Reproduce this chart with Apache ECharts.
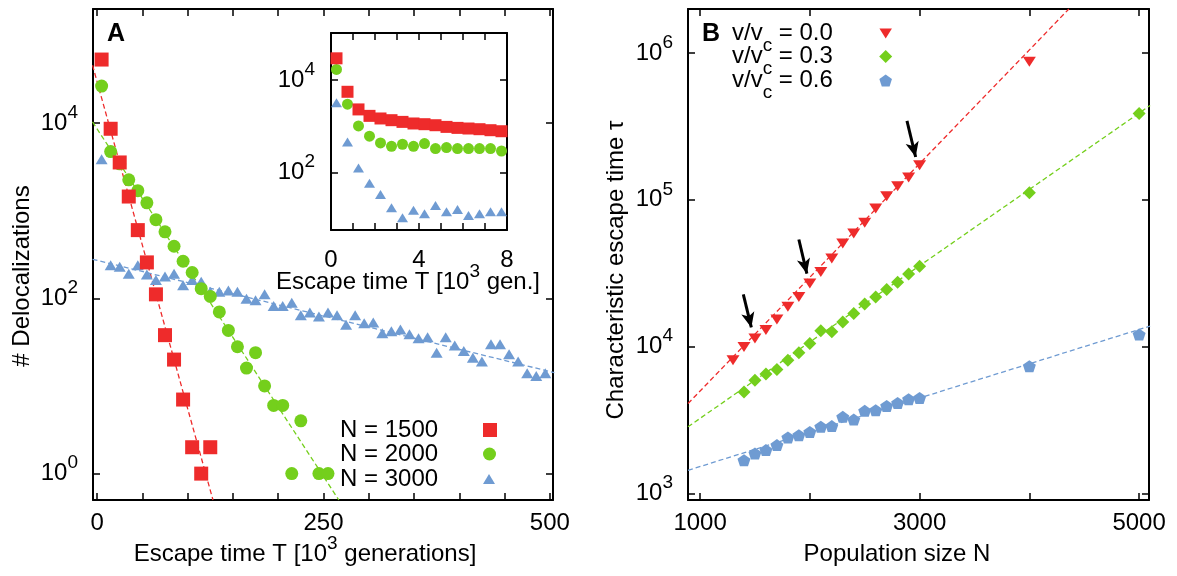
<!DOCTYPE html>
<html>
<head>
<meta charset="utf-8">
<script src="https://cdn.jsdelivr.net/npm/echarts@6.0.0/dist/echarts.min.js"></script>
<style>
  html, body { margin: 0; padding: 0; background: #fff; }
  #chart { width: 1177px; height: 576px; }
</style>
</head>
<body>
<div id="chart"></div>
<script>
// ---- Panel A: histograms of escape times (10^3 generations) ----
const escT_N1500 = [5, 15, 25, 35, 45, 55, 65, 75, 85, 95, 105, 115, 125];
const deloc_N1500 = [53000, 8600, 3550, 1450, 600, 257, 111, 38, 20, 7, 2, 1, 2];

const escT_N2000 = [5, 15, 25, 35, 45, 55, 65, 75, 85, 95, 105, 115, 125, 135, 145, 155, 165, 175, 185, 195, 205, 215, 225, 245, 255];
const deloc_N2000 = [26400, 4720, 3420, 2250, 1690, 1230, 790, 573, 393, 265, 197, 129, 105, 70, 43, 28, 16, 24, 10, 6, 6, 1, 4, 1, 1];

const escT_N3000 = [5, 15, 25, 35, 45, 55, 65, 75, 85, 95, 105, 115, 125, 135, 145, 155, 165, 175, 185, 195,
  205, 215, 225, 235, 245, 255, 265, 275, 285, 295, 305, 315, 325, 335, 345, 355, 365, 375, 385, 395,
  405, 415, 425, 435, 445, 455, 465, 475, 485, 495];
const deloc_N3000 = [3860, 239, 229, 191, 239, 187, 162, 177, 191, 141, 162, 155, 119, 119, 123, 119, 99, 95, 111, 82,
  82, 89, 64, 69, 62, 69, 64, 50, 64, 52, 53, 40, 42, 44, 39, 35, 36, 24, 36, 29,
  25, 21, 19, 30, 30, 23, 19, 14, 13, 14];

// exponential fits (end points)
const fitA_N1500 = [[-5, 45600], [128, 0.5]];
const fitA_N2000 = [[-5, 10300], [267, 0.5]];
const fitA_N3000 = [[-5, 279], [505, 14.2]];

// inset: first 8000 generations
const insetT = [0.25, 0.75, 1.25, 1.75, 2.25, 2.75, 3.25, 3.75, 4.25, 4.75, 5.25, 5.75, 6.25, 6.75, 7.25, 7.75];
const inset_N1500 = [29600, 5570, 2310, 1675, 1470, 1350, 1240, 1145, 1105, 1050, 966, 919, 891, 861, 819, 778];
const inset_N2000 = [17000, 3000, 1015, 607, 434, 367, 406, 367, 420, 327, 344, 327, 327, 327, 327, 290];
const inset_N3000 = [3210, 456, 124, 58, 33, 17, 10.4, 15, 12.7, 19, 14, 15.7, 11.6, 12.7, 14, 14];

// ---- Panel B: characteristic escape time vs population size ----
const popN_v00 = [1300, 1400, 1500, 1600, 1700, 1800, 1900, 2000, 2100, 2200, 2300, 2400, 2500, 2600, 2700, 2800, 2900, 3000, 4000];
const tau_v00 = [8070, 9950, 11350, 12950, 15300, 18700, 21800, 26900, 32300, 39800, 50400, 59000, 69700, 87300, 106000, 124000, 142000, 172000, 873000];

const popN_v03 = [1400, 1500, 1600, 1700, 1800, 1900, 2000, 2100, 2200, 2300, 2400, 2500, 2600, 2700, 2800, 2900, 3000, 4000, 5000];
const tau_v03 = [4910, 5900, 6490, 6980, 8070, 9060, 10500, 12800, 12600, 14700, 16800, 19500, 21800, 24500, 27400, 31200, 35300, 112000, 388000];

const popN_v06 = [1400, 1500, 1600, 1700, 1800, 1900, 2000, 2100, 2200, 2300, 2400, 2500, 2600, 2700, 2800, 2900, 3000, 4000, 5000];
const tau_v06 = [1680, 1870, 1970, 2130, 2400, 2490, 2620, 2840, 2870, 3320, 3180, 3650, 3680, 3940, 4130, 4380, 4470, 7350, 12100];

const fitB_v00 = [[890, 4090], [4360, 2000000]];
const fitB_v03 = [[890, 2840], [5100, 440000]];
const fitB_v06 = [[890, 1435], [5100, 13800]];

// arrows marking N = 1500, 2000, 3000
const arrowFrom = [[1394, 22700], [1900, 53700], [2885, 346000]];
const arrowTo = [[1467, 13500], [1973, 31400], [2964, 196000]];

// tick values (log axes are drawn as log10 on value axes)
const ticksA_x = [0, 50, 100, 150, 200, 250, 300, 350, 400, 450, 500];
const labelsA_x = [0, 250, 500];
const ticksA_y = [0, 2, 4];
const ticksInset_x = [0, 1, 2, 3, 4, 5, 6, 7, 8];
const labelsInset_x = [0, 4, 8];
const ticksInset_y = [2, 4];
const ticksB_x = [1000, 2000, 3000, 4000, 5000];
const labelsB_x = [1000, 3000, 5000];
const ticksB_y = [3, 4, 5, 6];

const FONT = '"Liberation Sans", Arial, Helvetica, sans-serif';
const RED = '#ee2b2b';
const GREEN = '#74cf1c';
const BLUE = '#6f9bd2';
const TRI_DOWN = 'path://M0,0L20,0L10,16Z';
const PENTAGON = 'path://M10,0L19.51,6.91L15.88,18.09L4.12,18.09L0.49,6.91Z';

const supRich = {
    b: { fontSize: 24, fontFamily: FONT, color: '#000', lineHeight: 40 },
    s: { fontSize: 19, fontFamily: FONT, color: '#000', verticalAlign: 'top' }
};

function pts(xs, ys) {
    return xs.map((x, i) => [x, Math.log10(ys[i])]);
}
function fitPts(pairs) {
    return pairs.map(p => [p[0], Math.log10(p[1])]);
}

function xAxis(gridIndex, min, max, ticks, labels, position, margin) {
    return {
        type: 'value', gridIndex: gridIndex, min: min, max: max, position: position,
        axisLine: { show: true, onZero: false, lineStyle: { color: '#000', width: 2 } },
        axisTick: { show: true, inside: true, length: 7, customValues: ticks, lineStyle: { color: '#000', width: 1.5 } },
        axisLabel: {
            show: !!labels, customValues: labels || [], margin: margin,
            color: '#000', fontSize: 24, fontFamily: FONT,
            formatter: function (v) { return String(v); }
        },
        splitLine: { show: false }
    };
}
function yLogAxis(gridIndex, min, max, ticks, position, showLabels, margin) {
    return {
        type: 'value', gridIndex: gridIndex, min: min, max: max, position: position,
        axisLine: { show: true, onZero: false, lineStyle: { color: '#000', width: 2 } },
        axisTick: { show: true, inside: true, length: 7, customValues: ticks, lineStyle: { color: '#000', width: 1.5 } },
        axisLabel: {
            show: showLabels, customValues: ticks, margin: margin,
            formatter: function (v) { return '{b|10}{s|' + Math.round(v) + '}'; },
            rich: supRich
        },
        splitLine: { show: false }
    };
}
function scatter(name, axis, data, symbol, size, color) {
    return {
        name: name, type: 'scatter', xAxisIndex: axis, yAxisIndex: axis,
        data: data, symbol: symbol, symbolSize: size, z: 3, silent: true,
        itemStyle: { color: color, opacity: 1 }
    };
}
function fitLine(name, axis, data, color) {
    return {
        name: name, type: 'line', xAxisIndex: axis, yAxisIndex: axis,
        data: data, symbol: 'none', showSymbol: false, clip: true, z: 2, silent: true,
        lineStyle: { color: color, width: 1.3, type: [5, 3] }
    };
}

const series = [
    fitLine('fitA1500', 0, fitPts(fitA_N1500), RED),
    fitLine('fitA2000', 0, fitPts(fitA_N2000), GREEN),
    fitLine('fitA3000', 0, fitPts(fitA_N3000), BLUE),
    scatter('N = 3000', 0, pts(escT_N3000, deloc_N3000), 'triangle', [12, 10], BLUE),
    scatter('N = 2000', 0, pts(escT_N2000, deloc_N2000), 'circle', 13, GREEN),
    scatter('N = 1500', 0, pts(escT_N1500, deloc_N1500), 'rect', 14, RED),

    scatter('inset3000', 2, pts(insetT, inset_N3000), 'triangle', [11, 9], BLUE),
    scatter('inset2000', 2, pts(insetT, inset_N2000), 'circle', 11, GREEN),
    scatter('inset1500', 2, pts(insetT, inset_N1500), 'rect', 12, RED),

    fitLine('fitB06', 4, fitPts(fitB_v06), BLUE),
    fitLine('fitB03', 4, fitPts(fitB_v03), GREEN),
    Object.assign(fitLine('fitB00', 4, fitPts(fitB_v00), RED), {
        markLine: {
            silent: true, animation: false,
            symbol: ['none', 'arrow'], symbolSize: [10, 15],
            label: { show: false },
            lineStyle: { color: '#000', width: 3, type: 'solid' },
            data: arrowFrom.map((a, i) => [
                { coord: [a[0], Math.log10(a[1])] },
                { coord: [arrowTo[i][0], Math.log10(arrowTo[i][1])] }
            ])
        }
    }),
    scatter('v/vc = 0.6', 4, pts(popN_v06, tau_v06), PENTAGON, [13, 12], BLUE),
    scatter('v/vc = 0.3', 4, pts(popN_v03, tau_v03), 'diamond', [13, 13], GREEN),
    scatter('v/vc = 0.0', 4, pts(popN_v00, tau_v00), TRI_DOWN, [13, 10], RED)
];

// legends, one per entry so each row sits where it does in the figure
const legendA = [
    { name: 'N = 1500', icon: 'rect', w: 14, h: 14, y: 430 },
    { name: 'N = 2000', icon: 'circle', w: 13, h: 13, y: 454 },
    { name: 'N = 3000', icon: 'triangle', w: 12, h: 10, y: 479 }
].map(it => ({
    left: 340, top: it.y - 12, padding: 0, orient: 'vertical', align: 'right',
    itemWidth: it.w, itemHeight: it.h, selectedMode: false,
    data: [{ name: it.name, icon: it.icon }],
    formatter: name => '{t|' + name + '}',
    textStyle: {
        fontSize: 24, fontFamily: FONT, color: '#000', lineHeight: 24,
        rich: { t: { width: 138, align: 'left', fontSize: 24, fontFamily: FONT, color: '#000', lineHeight: 24 } }
    }
}));
const legendB = [
    { name: 'v/vc = 0.0', icon: TRI_DOWN, w: 13, h: 10, y: 32 },
    { name: 'v/vc = 0.3', icon: 'diamond', w: 13, h: 13, y: 55 },
    { name: 'v/vc = 0.6', icon: PENTAGON, w: 13, h: 12, y: 79 }
].map(it => ({
    left: 732, top: it.y - 10.5, padding: 0, orient: 'vertical', align: 'right',
    itemWidth: it.w, itemHeight: it.h, selectedMode: false,
    data: [{ name: it.name, icon: it.icon }],
    formatter: name => '{a|v/v}{c|c}{e| = ' + name.split('= ')[1] + '}',
    textStyle: {
        fontSize: 24, fontFamily: FONT, color: '#000',
        rich: {
            a: { fontSize: 24, fontFamily: FONT, color: '#000', align: 'left', verticalAlign: 'middle' },
            c: { fontSize: 19, fontFamily: FONT, color: '#000', align: 'left', verticalAlign: 'top', padding: [24, 0, 0, 0] },
            e: { fontSize: 24, fontFamily: FONT, color: '#000', align: 'left', verticalAlign: 'middle', width: 102 }
        }
    }
}));

const chart = echarts.init(document.getElementById('chart'), null, { renderer: 'canvas' });
chart.setOption({
    animation: false,
    backgroundColor: '#fff',
    textStyle: { fontFamily: FONT, color: '#000' },
    grid: [
        { left: 93, top: 9, width: 460, height: 491, outerBoundsMode: 'none' },
        { left: 331, top: 33, width: 176, height: 197, outerBoundsMode: 'none' },
        { left: 688, top: 9, width: 461, height: 491, outerBoundsMode: 'none' }
    ],
    xAxis: [
        xAxis(0, -4.5, 503.5, ticksA_x, labelsA_x, 'bottom', 11),
        xAxis(0, -4.5, 503.5, ticksA_x, null, 'top', 8),
        xAxis(1, 0, 8, ticksInset_x, labelsInset_x, 'bottom', 18),
        xAxis(1, 0, 8, ticksInset_x, null, 'top', 8),
        xAxis(2, 890, 5090, ticksB_x, labelsB_x, 'bottom', 11),
        xAxis(2, 890, 5090, ticksB_x, null, 'top', 8)
    ],
    yAxis: [
        yLogAxis(0, Math.log10(0.5), Math.log10(200000), ticksA_y, 'left', true, 15),
        yLogAxis(0, Math.log10(0.5), Math.log10(200000), ticksA_y, 'right', false, 8),
        yLogAxis(1, 0.75, 5.02, ticksInset_y, 'left', true, 16),
        yLogAxis(1, 0.75, 5.02, ticksInset_y, 'right', false, 8),
        yLogAxis(2, Math.log10(900), Math.log10(2000000), ticksB_y, 'left', true, 15),
        yLogAxis(2, Math.log10(900), Math.log10(2000000), ticksB_y, 'right', false, 8)
    ],
    legend: legendA.concat(legendB),
    graphic: [
        { type: 'text', x: 116, y: 34, style: { text: 'A', fontSize: 25, fontWeight: 'bold', fontFamily: FONT, fill: '#000', align: 'center', verticalAlign: 'middle' } },
        { type: 'text', x: 711, y: 34, style: { text: 'B', fontSize: 25, fontWeight: 'bold', fontFamily: FONT, fill: '#000', align: 'center', verticalAlign: 'middle' } },
        { type: 'text', x: 22, y: 276, rotation: Math.PI / 2, style: { text: '# Delocalizations', fontSize: 24, fontFamily: FONT, fill: '#000', align: 'center', verticalAlign: 'middle' } },
        { type: 'text', x: 616, y: 270, rotation: Math.PI / 2, style: { text: 'Characteristic escape time τ', fontSize: 24, fontFamily: FONT, fill: '#000', align: 'center', verticalAlign: 'middle' } },
        { type: 'text', x: 305, y: 554, style: { text: '{b|Escape time T [10}{s|3}{b| generations]}', rich: supRich, fontSize: 24, fontFamily: FONT, fill: '#000', align: 'center', verticalAlign: 'middle' } },
        { type: 'text', x: 408, y: 282, style: { text: '{b|Escape time T [10}{s|3}{b| gen.]}', rich: supRich, fontSize: 24, fontFamily: FONT, fill: '#000', align: 'center', verticalAlign: 'middle' } },
        { type: 'text', x: 897, y: 554, style: { text: 'Population size N', fontSize: 24, fontFamily: FONT, fill: '#000', align: 'center', verticalAlign: 'middle' } }
    ],
    series: series
});
</script>
</body>
</html>
